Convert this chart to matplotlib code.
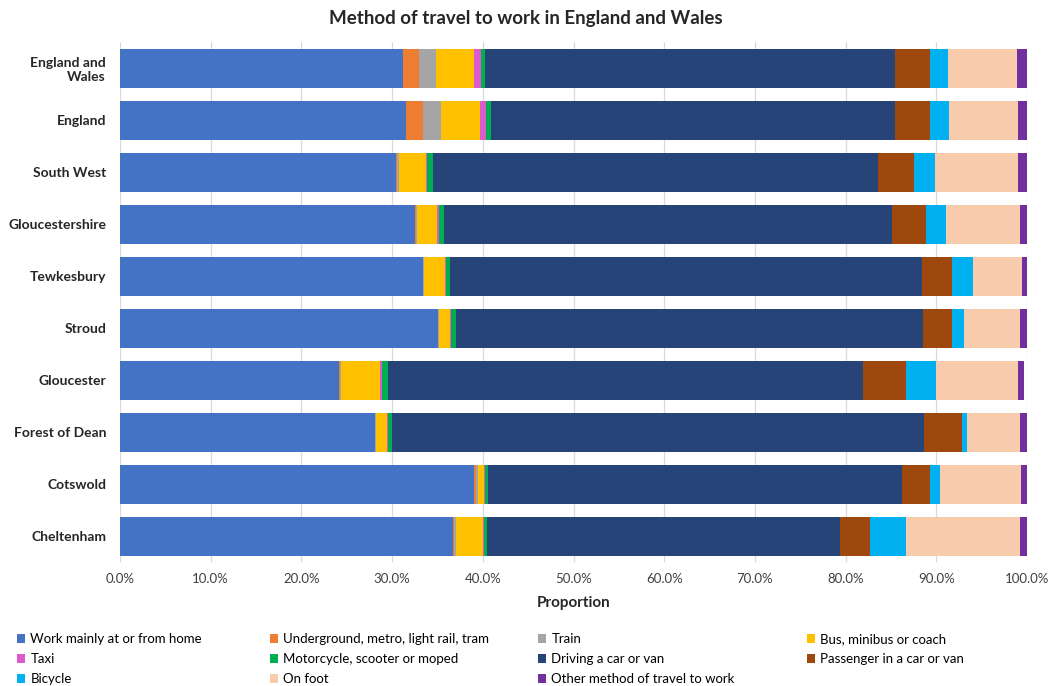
import matplotlib.pyplot as plt
import numpy as np
from matplotlib.ticker import PercentFormatter

plt.rcParams['font.family'] = ['Lato', 'DejaVu Sans']

areas = ['England and\nWales', 'England', 'South West', 'Gloucestershire', 'Tewkesbury',
         'Stroud', 'Gloucester', 'Forest of Dean', 'Cotswold', 'Cheltenham']

# percentages, same order as areas (top to bottom)
home = [31.2, 31.5, 30.4, 32.5, 33.4, 35.1, 24.2, 28.1, 39.0, 36.7]
underground = [1.8, 1.9, 0.1, 0.1, 0.0, 0.0, 0.1, 0.0, 0.2, 0.1]
train = [1.8, 2.0, 0.3, 0.2, 0.1, 0.1, 0.1, 0.1, 0.3, 0.2]
bus = [4.2, 4.3, 2.9, 2.2, 2.3, 1.2, 4.3, 1.2, 0.6, 3.0]
taxi = [0.8, 0.7, 0.2, 0.2, 0.1, 0.1, 0.2, 0.1, 0.1, 0.1]
motorcycle = [0.4, 0.5, 0.6, 0.5, 0.5, 0.5, 0.6, 0.5, 0.4, 0.4]
driving = [45.2, 44.5, 49.1, 49.4, 52.0, 51.5, 52.4, 58.6, 45.6, 38.9]
passenger = [3.9, 3.9, 3.9, 3.8, 3.3, 3.2, 4.8, 4.2, 3.1, 3.3]
bicycle = [2.0, 2.1, 2.4, 2.2, 2.3, 1.4, 3.3, 0.6, 1.1, 4.0]
on_foot = [7.6, 7.6, 9.1, 8.1, 5.4, 6.1, 9.0, 5.8, 8.9, 12.5]
other = [1.1, 1.0, 1.0, 0.8, 0.7, 0.8, 0.7, 0.8, 0.8, 0.8]

series = [
    ('Work mainly at or from home', home, '#4472C4'),
    ('Underground, metro, light rail, tram', underground, '#ED7D31'),
    ('Train', train, '#A5A5A5'),
    ('Bus, minibus or coach', bus, '#FFC000'),
    ('Taxi', taxi, '#DA5BC9'),
    ('Motorcycle, scooter or moped', motorcycle, '#00B050'),
    ('Driving a car or van', driving, '#264478'),
    ('Passenger in a car or van', passenger, '#9E480E'),
    ('Bicycle', bicycle, '#00B0F0'),
    ('On foot', on_foot, '#F8CBAD'),
    ('Other method of travel to work', other, '#7030A0'),
]

fig = plt.figure(figsize=(10.52, 6.86), dpi=100)
ax = fig.add_axes([120 / 1052, 1 - 562 / 686, 907 / 1052, 520 / 686])

y = np.arange(len(areas))
left = np.zeros(len(areas))
handles = []
for name, vals, col in series:
    vals = np.array(vals) / 100
    h = ax.barh(y, vals, left=left, height=0.75, color=col, label=name)
    handles.append(h)
    left += vals

ax.set_ylim(len(areas) - 0.5, -0.5)
ax.set_xlim(0, 1)
ax.set_xticks(np.arange(0, 1.01, 0.1))
ax.xaxis.set_major_formatter(PercentFormatter(1.0, decimals=1))
ax.set_yticks(y)
ax.set_yticklabels(areas, fontsize=10, fontweight='bold', color='#262626')
ax.tick_params(axis='x', labelsize=9.5, colors='#404040', length=0, pad=8)
ax.tick_params(axis='y', length=0, pad=10)
for s in ax.spines.values():
    s.set_visible(False)
ax.grid(axis='x', color='#D9D9D9', linewidth=0.9)
ax.set_axisbelow(True)
ax.set_xlabel('Proportion', fontsize=11, fontweight='bold', color='#262626', labelpad=8)

fig.suptitle('Method of travel to work in England and Wales', fontsize=13.5,
             fontweight='bold', color='#262626', y=0.985)

# legend laid out row by row like the original: 4 columns
col_x = [12, 265, 533, 802]
for c, x0 in enumerate(col_x):
    hs = handles[c::4]
    leg = fig.legend(handles=hs, loc='upper left', bbox_to_anchor=(x0 / 1052, 1 - 628 / 686),
                     frameon=False, fontsize=9.5, handlelength=0.6, handleheight=0.6,
                     handletextpad=0.4, labelspacing=0.6, borderaxespad=0)
    leg.set_in_layout(False)

fig.savefig('out.png', dpi=100)
